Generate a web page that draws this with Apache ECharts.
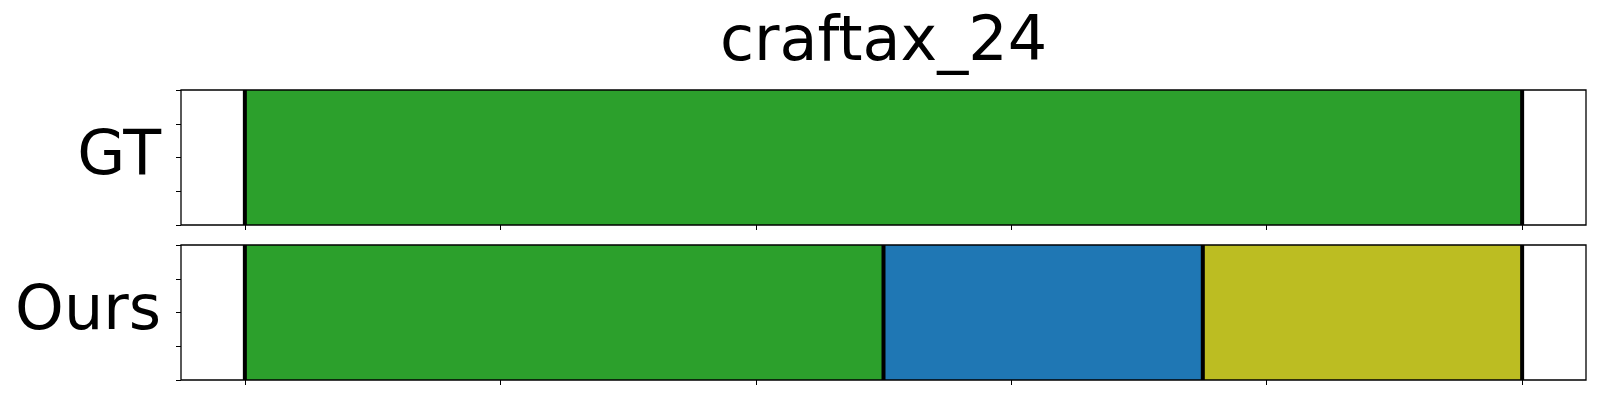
<!DOCTYPE html>
<html>
<head>
<meta charset="utf-8">
<script src="https://cdn.jsdelivr.net/npm/echarts@6/dist/echarts.min.js"></script>
<style>html,body{margin:0;padding:0;background:#fff}#c{width:1600px;height:400px}</style>
</head>
<body>
<div id="c"></div>
<script>
const titleText = 'craftax_24';
const rowNames = ['GT', 'Ours'];
const gtStarts = [0];
const gtEnds = [100];
const gtColors = ['#2ca02c'];
const oursStarts = [0, 50, 75];
const oursEnds = [50, 75, 100];
const oursColors = ['#2ca02c', '#1f77b4', '#bcbd22'];
const gtBoundaries = [0, 100];
const oursBoundaries = [0, 50, 75, 100];
const xTicks = [0, 20, 40, 60, 80, 100];
const xMin = -5, xMax = 105;

const FONT = 'DejaVu Sans';
const chart = echarts.init(document.getElementById('c'), null, {renderer: 'canvas'});

function renderSeg(params, api) {
  const s = api.value(0), e = api.value(1);
  const p0 = api.coord([s, 1]);
  const p1 = api.coord([e, 0]);
  return {
    type: 'rect',
    shape: {x: p0[0], y: p0[1], width: p1[0] - p0[0], height: p1[1] - p0[1]},
    style: {fill: api.visual('color')}
  };
}

function renderLine(params, api) {
  const x = api.value(0);
  const a = api.coord([x, 1]);
  const b = api.coord([x, 0]);
  return {
    type: 'line',
    shape: {x1: a[0], y1: a[1], x2: b[0], y2: b[1]},
    style: {stroke: '#000', lineWidth: 4}
  };
}

const grids = [
  {left: 181, top: 90, width: 1405, height: 135},
  {left: 181, top: 245, width: 1405, height: 135}
];

function xAxis(gi) {
  return {
    type: 'value', gridIndex: gi, min: xMin, max: xMax,
    axisLine: {show: false, onZero: false},
    axisTick: {show: true, customValues: xTicks, length: 5, lineStyle: {color: '#000', width: 1}},
    axisLabel: {show: false},
    splitLine: {show: false}
  };
}
function yAxis(gi) {
  return {
    type: 'value', gridIndex: gi, min: 0, max: 1, interval: 0.25,
    name: rowNames[gi], nameLocation: 'middle', nameRotate: 0, nameGap: 20,
    nameTextStyle: {fontFamily: FONT, fontSize: 62, color: '#000', align: 'right', verticalAlign: 'middle'},
    axisLine: {show: false, onZero: false},
    axisTick: {show: true, length: 5, lineStyle: {color: '#000', width: 1}},
    axisLabel: {show: false},
    splitLine: {show: false}
  };
}

function segSeries(gi, starts, ends, colors) {
  return {
    type: 'custom', xAxisIndex: gi, yAxisIndex: gi,
    data: starts.map((s, i) => ({value: [s, ends[i]], itemStyle: {color: colors[i]}})),
    renderItem: renderSeg, silent: true, animation: false, z: 2
  };
}
function lineSeries(gi, bounds) {
  return {
    type: 'custom', xAxisIndex: gi, yAxisIndex: gi,
    data: bounds.map(b => [b]),
    renderItem: renderLine, silent: true, animation: false, z: 3
  };
}

chart.setOption({
  animation: false,
  backgroundColor: '#fff',
  grid: grids.map(g => Object.assign({show: true, borderColor: '#000', borderWidth: 1.3, backgroundColor: 'transparent', z: 10}, g)),
  xAxis: [xAxis(0), xAxis(1)],
  yAxis: [yAxis(0), yAxis(1)],
  graphic: [{
    type: 'text', x: 883.5, y: 43.5, z: 100,
    style: {text: titleText, fontFamily: FONT, fontSize: 62, fill: '#000', textAlign: 'center', textVerticalAlign: 'middle'}
  }],
  series: [
    segSeries(0, gtStarts, gtEnds, gtColors),
    lineSeries(0, gtBoundaries),
    segSeries(1, oursStarts, oursEnds, oursColors),
    lineSeries(1, oursBoundaries)
  ]
});
</script>
</body>
</html>
